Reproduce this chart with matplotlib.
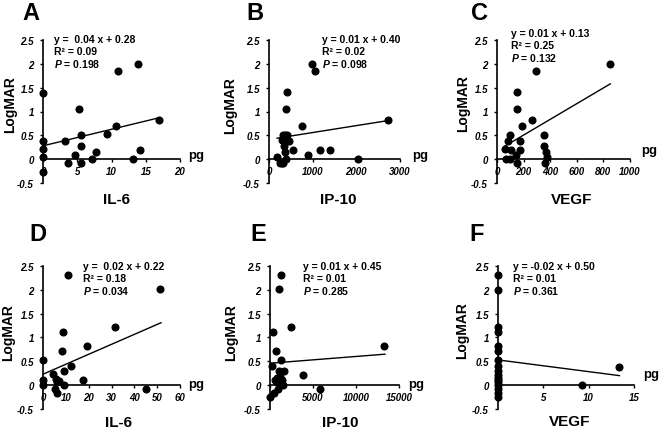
import matplotlib
matplotlib.use("Agg")
import matplotlib.pyplot as plt

plt.rcParams['font.family'] = ['Liberation Sans', 'DejaVu Sans']
plt.rcParams['mathtext.fontset'] = 'custom'
plt.rcParams['mathtext.rm'] = 'Liberation Sans:bold'
plt.rcParams['mathtext.it'] = 'Liberation Sans:bold:italic'
plt.rcParams['mathtext.bf'] = 'Liberation Sans:bold'

# ---------------- data ----------------
panel_letters = ["A", "B", "C", "D", "E", "F"]
cytokines = ["IL-6", "IP-10", "VEGF", "IL-6", "IP-10", "VEGF"]
equations = ["y =  0.04 x + 0.28", "y = 0.01 x + 0.40", "y = 0.01 x + 0.13",
             "y =  0.02 x + 0.22", "y = 0.01 x + 0.45", "y = -0.02 x + 0.50"]
r2_values = ["0.09", "0.02", "0.25", "0.18", "0.01", "0.01"]
p_values = ["0.198", "0.098", "0.132", "0.034", "0.285", "0.361"]

a_x = [0, 0, 0, 0, 0, 3.2, 3.7, 4.6, 5.2, 5.5, 5.5, 5.5, 7.2, 7.8, 9.3, 10.7, 11.0, 13.2, 13.8, 14.1, 17.0]
a_y = [1.39, 0.38, 0.21, 0.04, -0.27, 0.38, -0.09, 0.09, 1.05, 0.51, 0.28, -0.09, 0.0, 0.14, 0.52, 0.69, 1.85, 0.0, 2.0, 0.2, 0.82]
a_fit_x = [0, 17.0]
a_fit_y = [0.28, 0.87]
a_ticks = [0, 5, 10, 15, 20]

b_x = [184, 245, 290, 320, 290, 320, 345, 360, 360, 385, 405, 420, 400, 460, 550, 765, 903, 995, 1056, 1163, 1400, 2043, 2731]
b_y = [0.04, -0.09, -0.09, -0.09, 0.41, 0.51, 0.28, 0.15, 0.51, 1.05, 0.51, 1.40, 0.0, 0.38, 0.2, 0.69, 0.08, 2.0, 1.85, 0.2, 0.2, 0.0, 0.82]
b_fit_x = [184, 2731]
b_fit_y = [0.44, 0.81]
b_ticks = [0, 1000, 2000, 3000]

c_x = [58, 66, 84, 97, 97, 109, 142, 148, 153, 148, 170, 173, 188, 262, 295, 350, 350, 365, 360, 375, 852]
c_y = [0.21, 0.0, 0.38, 0.51, 0.0, 0.2, 0.08, 1.40, 1.05, -0.09, 0.2, 0.38, 0.69, 0.82, 1.85, 0.51, 0.28, 0.14, -0.09, 0.04, 2.0]
c_fit_x = [51, 852]
c_fit_y = [0.26, 1.58]
c_ticks = [0, 200, 400, 600, 800, 1000]

d_x = [0, 0, 0, 4.5, 5.7, 6.3, 5.3, 6.0, 7.2, 8.3, 8.9, 9.2, 9.3, 11.1, 12.1, 17.7, 19.1, 31.4, 45.0, 51.2]
d_y = [0.53, 0.11, 0.0, 0.23, 0.13, 0.06, -0.07, -0.17, 0.09, 0.72, 1.11, 0.30, 0.0, 2.32, 0.41, 0.1, 0.83, 1.23, -0.07, 2.01]
d_fit_x = [0, 51.7]
d_fit_y = [0.23, 1.31]
d_ticks = [0, 10, 20, 30, 40, 50, 60]

e_x = [0, 271, 310, 465, 580, 660, 775, 850, 970, 970, 1085, 1085, 1160, 1280, 1280, 1360, 1470, 1670, 2440, 3875, 5810, 13300]
e_y = [-0.25, 0.41, 1.11, -0.17, 0.11, 0.72, 0.06, 0.14, 0.11, -0.07, 2.02, 0.30, 0.18, 2.32, 0.53, 0.11, 0.0, 0.30, 1.23, 0.22, -0.07, 0.82]
e_fit_x = [0, 13370]
e_fit_y = [0.46, 0.65]
e_ticks = [0, 5000, 10000, 15000]

f_x = [0, 0, 0, 0, 0, 0, 0, 0, 0, 0, 0, 0, 0, 0, 0, 0, 0, 9.3, 13.4]
f_y = [2.32, 2.0, 1.23, 1.11, 0.83, 0.72, 0.53, 0.41, 0.3, 0.22, 0.16, 0.11, 0.06, 0.0, -0.07, -0.17, -0.25, 0.0, 0.39]
f_fit_x = [0, 13.4]
f_fit_y = [0.53, 0.2]
f_ticks = [0, 5, 10, 15]

y_ticks = [-0.5, 0, 0.5, 1, 1.5, 2, 2.5]
y_tick_labels = ["-0.5", "0", "0.5", "1", "1.5", "2", "2.5"]

# ---------------- layout ----------------
W, H = 660, 435
fig = plt.figure(figsize=(6.6, 4.35), dpi=100)

def px(x, y):
    return x / W, 1 - y / H

# axes boxes in pixels: (x0, x1, ytop, ybottom)
boxes = [(43, 180, 41, 184), (269, 400, 41, 184), (497, 630, 41, 184),
         (43, 180, 267, 410), (270, 399, 267, 410), (498, 634, 267, 410)]
letter_pos = [(31, 14), (255, 14), (480, 14), (38, 235), (258, 235), (477, 235)]
eq_pos = [(54, 40), (322, 40), (511, 34), (83, 267), (303, 267), (513, 267)]
pg_pos = [(196, 156), (420, 156), (649, 151), (196, 385), (416, 385), (651, 375)]
ylab_pos = [(10, 105), (230, 106), (463, 104), (8, 333), (231, 333), (462, 331)]
xlab_pos = [(117, 200), (338, 200), (572, 200), (118, 423), (340, 423), (570, 422)]

xs = [a_x, b_x, c_x, d_x, e_x, f_x]
ys = [a_y, b_y, c_y, d_y, e_y, f_y]
fxs = [a_fit_x, b_fit_x, c_fit_x, d_fit_x, e_fit_x, f_fit_x]
fys = [a_fit_y, b_fit_y, c_fit_y, d_fit_y, e_fit_y, f_fit_y]
ticks = [a_ticks, b_ticks, c_ticks, d_ticks, e_ticks, f_ticks]

for i in range(6):
    x0, x1, yt, yb = boxes[i]
    ax = fig.add_axes([x0 / W, 1 - yb / H, (x1 - x0) / W, (yb - yt) / H])
    ax.patch.set_alpha(0)
    ax.plot(xs[i], ys[i], 'o', color='black', ms=4.8, clip_on=False, zorder=5)
    ax.plot(fxs[i], fys[i], '-', color='black', lw=1.0, zorder=4)
    ax.set_xlim(ticks[i][0], ticks[i][-1])
    ax.set_ylim(-0.5, 2.5)
    ax.spines['top'].set_visible(False)
    ax.spines['right'].set_visible(False)
    ax.spines['bottom'].set_position(('data', 0))
    ax.spines['left'].set_linewidth(1.2)
    ax.spines['bottom'].set_linewidth(1.2)
    ax.set_xticks(ticks[i])
    ax.set_xticklabels([str(t) for t in ticks[i]])
    ax.set_yticks(y_ticks)
    ax.set_yticklabels(y_tick_labels)
    ax.tick_params(axis='both', direction='out', length=2.5, width=1.0, labelsize=7)
    ax.tick_params(axis='x', pad=2.5)
    ax.tick_params(axis='y', pad=4)
    for lab in ax.get_xticklabels() + ax.get_yticklabels():
        lab.set_fontweight('bold')
        lab.set_fontstyle('italic')

    fig.text(*px(*letter_pos[i]), panel_letters[i], fontsize=17, fontweight='bold',
             ha='center', va='center')
    ex, ey = eq_pos[i]
    fig.text(*px(ex, ey), equations[i], fontsize=7.5, fontweight='bold', ha='left', va='center')
    fig.text(*px(ex, ey + 12), "R² = " + r2_values[i], fontsize=7.5, fontweight='bold',
             ha='left', va='center')
    fig.text(*px(ex, ey + 24), "$P$ = " + p_values[i], fontsize=7.5, fontweight='bold',
             ha='left', va='center')
    fig.text(*px(*pg_pos[i]), "pg", fontsize=9.5, fontweight='bold', ha='center', va='center')
    fig.text(*px(*ylab_pos[i]), "LogMAR", fontsize=10, fontweight='bold', rotation=90,
             ha='center', va='center')
    fig.text(*px(*xlab_pos[i]), cytokines[i], fontsize=11, fontweight='bold',
             ha='center', va='center')

fig.savefig("out.png", dpi=100)
